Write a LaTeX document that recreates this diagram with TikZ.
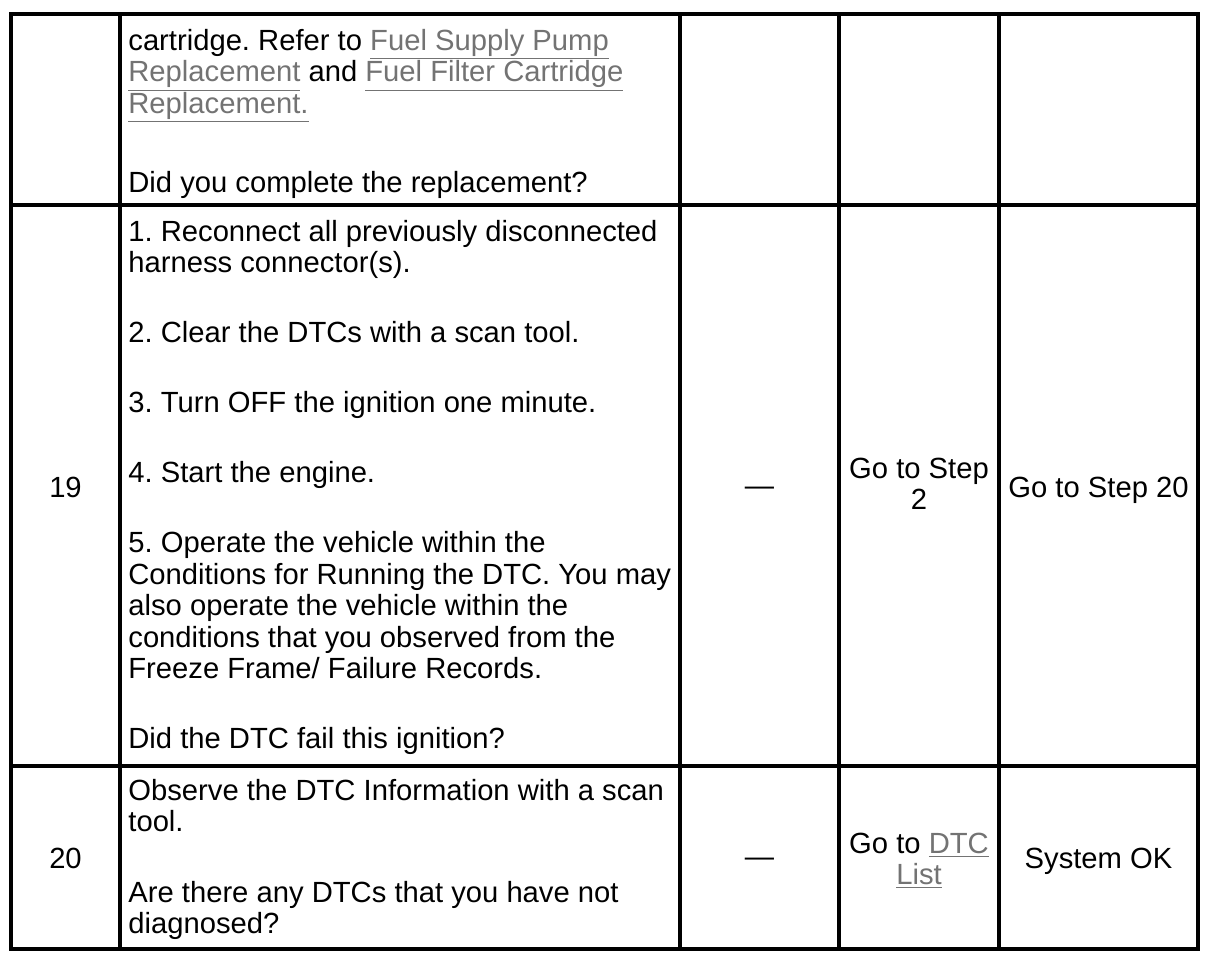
\documentclass[tikz,border=0pt]{standalone}
\usepackage{fontspec}
\setmainfont{Liberation Sans}
\usepackage{xcolor}
\definecolor{linkgray}{gray}{0.45}
\newcommand{\lnk}[1]{{\color{linkgray}\underline{#1}}}
\tikzset{txt/.style={anchor=base west,align=left,inner sep=0pt,font=\fontsize{14.6}{15.75}\selectfont\frenchspacing},
  mid/.style={anchor=base,align=center,inner sep=0pt,font=\fontsize{14.6}{15.75}\selectfont},
  rule/.style={line width=2pt}}

\begin{document}
\begin{tikzpicture}[x=0.5pt,y=-0.5pt]
    \useasboundingbox (0,0) rectangle (1216,964);
    % table frame
    \draw[rule] (11,14) rectangle (1198,949);
    \draw[rule] (11,205) -- (1198,205);
    \draw[rule] (11,766) -- (1198,766);
    \draw[rule] (120,14) -- (120,949);
    \draw[rule] (680,14) -- (680,949);
    \draw[rule] (839,14) -- (839,949);
    \draw[rule] (999,14) -- (999,949);
    % step 18 (end), multi-line nodes sit on their last baseline
    \node[txt] (a1) at (128,113) {cartridge. Refer to \lnk{Fuel Supply Pump}\\
        \lnk{Replacement} and \lnk{Fuel Filter Cartridge}\\ \lnk{Replacement.}};
    \node[txt] (a2) at (128,192) {Did you complete the replacement?};
    % step 19
    \node[mid] (n19) at (65.5,497) {19};
    \node[txt] (b1) at (128,272.5) {1. Reconnect all previously disconnected\\ harness connector(s).};
    \node[txt] (b2) at (128,342.5) {2. Clear the DTCs with a scan tool.};
    \node[txt] (b3) at (128,412.5) {3. Turn OFF the ignition one minute.};
    \node[txt] (b4) at (128,482.5) {4. Start the engine.};
    \node[txt] (b5) at (128,678.5) {5. Operate the vehicle within the\\
        Conditions for Running the DTC. You may\\ also operate the vehicle within the\\
        conditions that you observed from the\\ Freeze Frame/ Failure Records.};
    \node[txt] (b6) at (128,748.5) {Did the DTC fail this ignition?};
    \node[mid] (v19) at (759.5,495) {—};
    \node[mid] (y19) at (919,509.5) {Go to Step\\ 2};
    \node[mid] (z19) at (1098.5,497) {Go to Step 20};
    % step 20
    \node[mid] (n20) at (65.5,868) {20};
    \node[txt] (c1) at (128,831.5) {Observe the DTC Information with a scan\\ tool.};
    \node[txt] (c2) at (128,933.5) {Are there any DTCs that you have not\\ diagnosed?};
    \node[mid] (v20) at (759.5,866) {—};
    \node[mid] (y20) at (919,884.5) {Go to \lnk{DTC}\\ \lnk{List}};
    \node[mid] (z20) at (1098.5,868) {System OK};
\end{tikzpicture}
\end{document}
